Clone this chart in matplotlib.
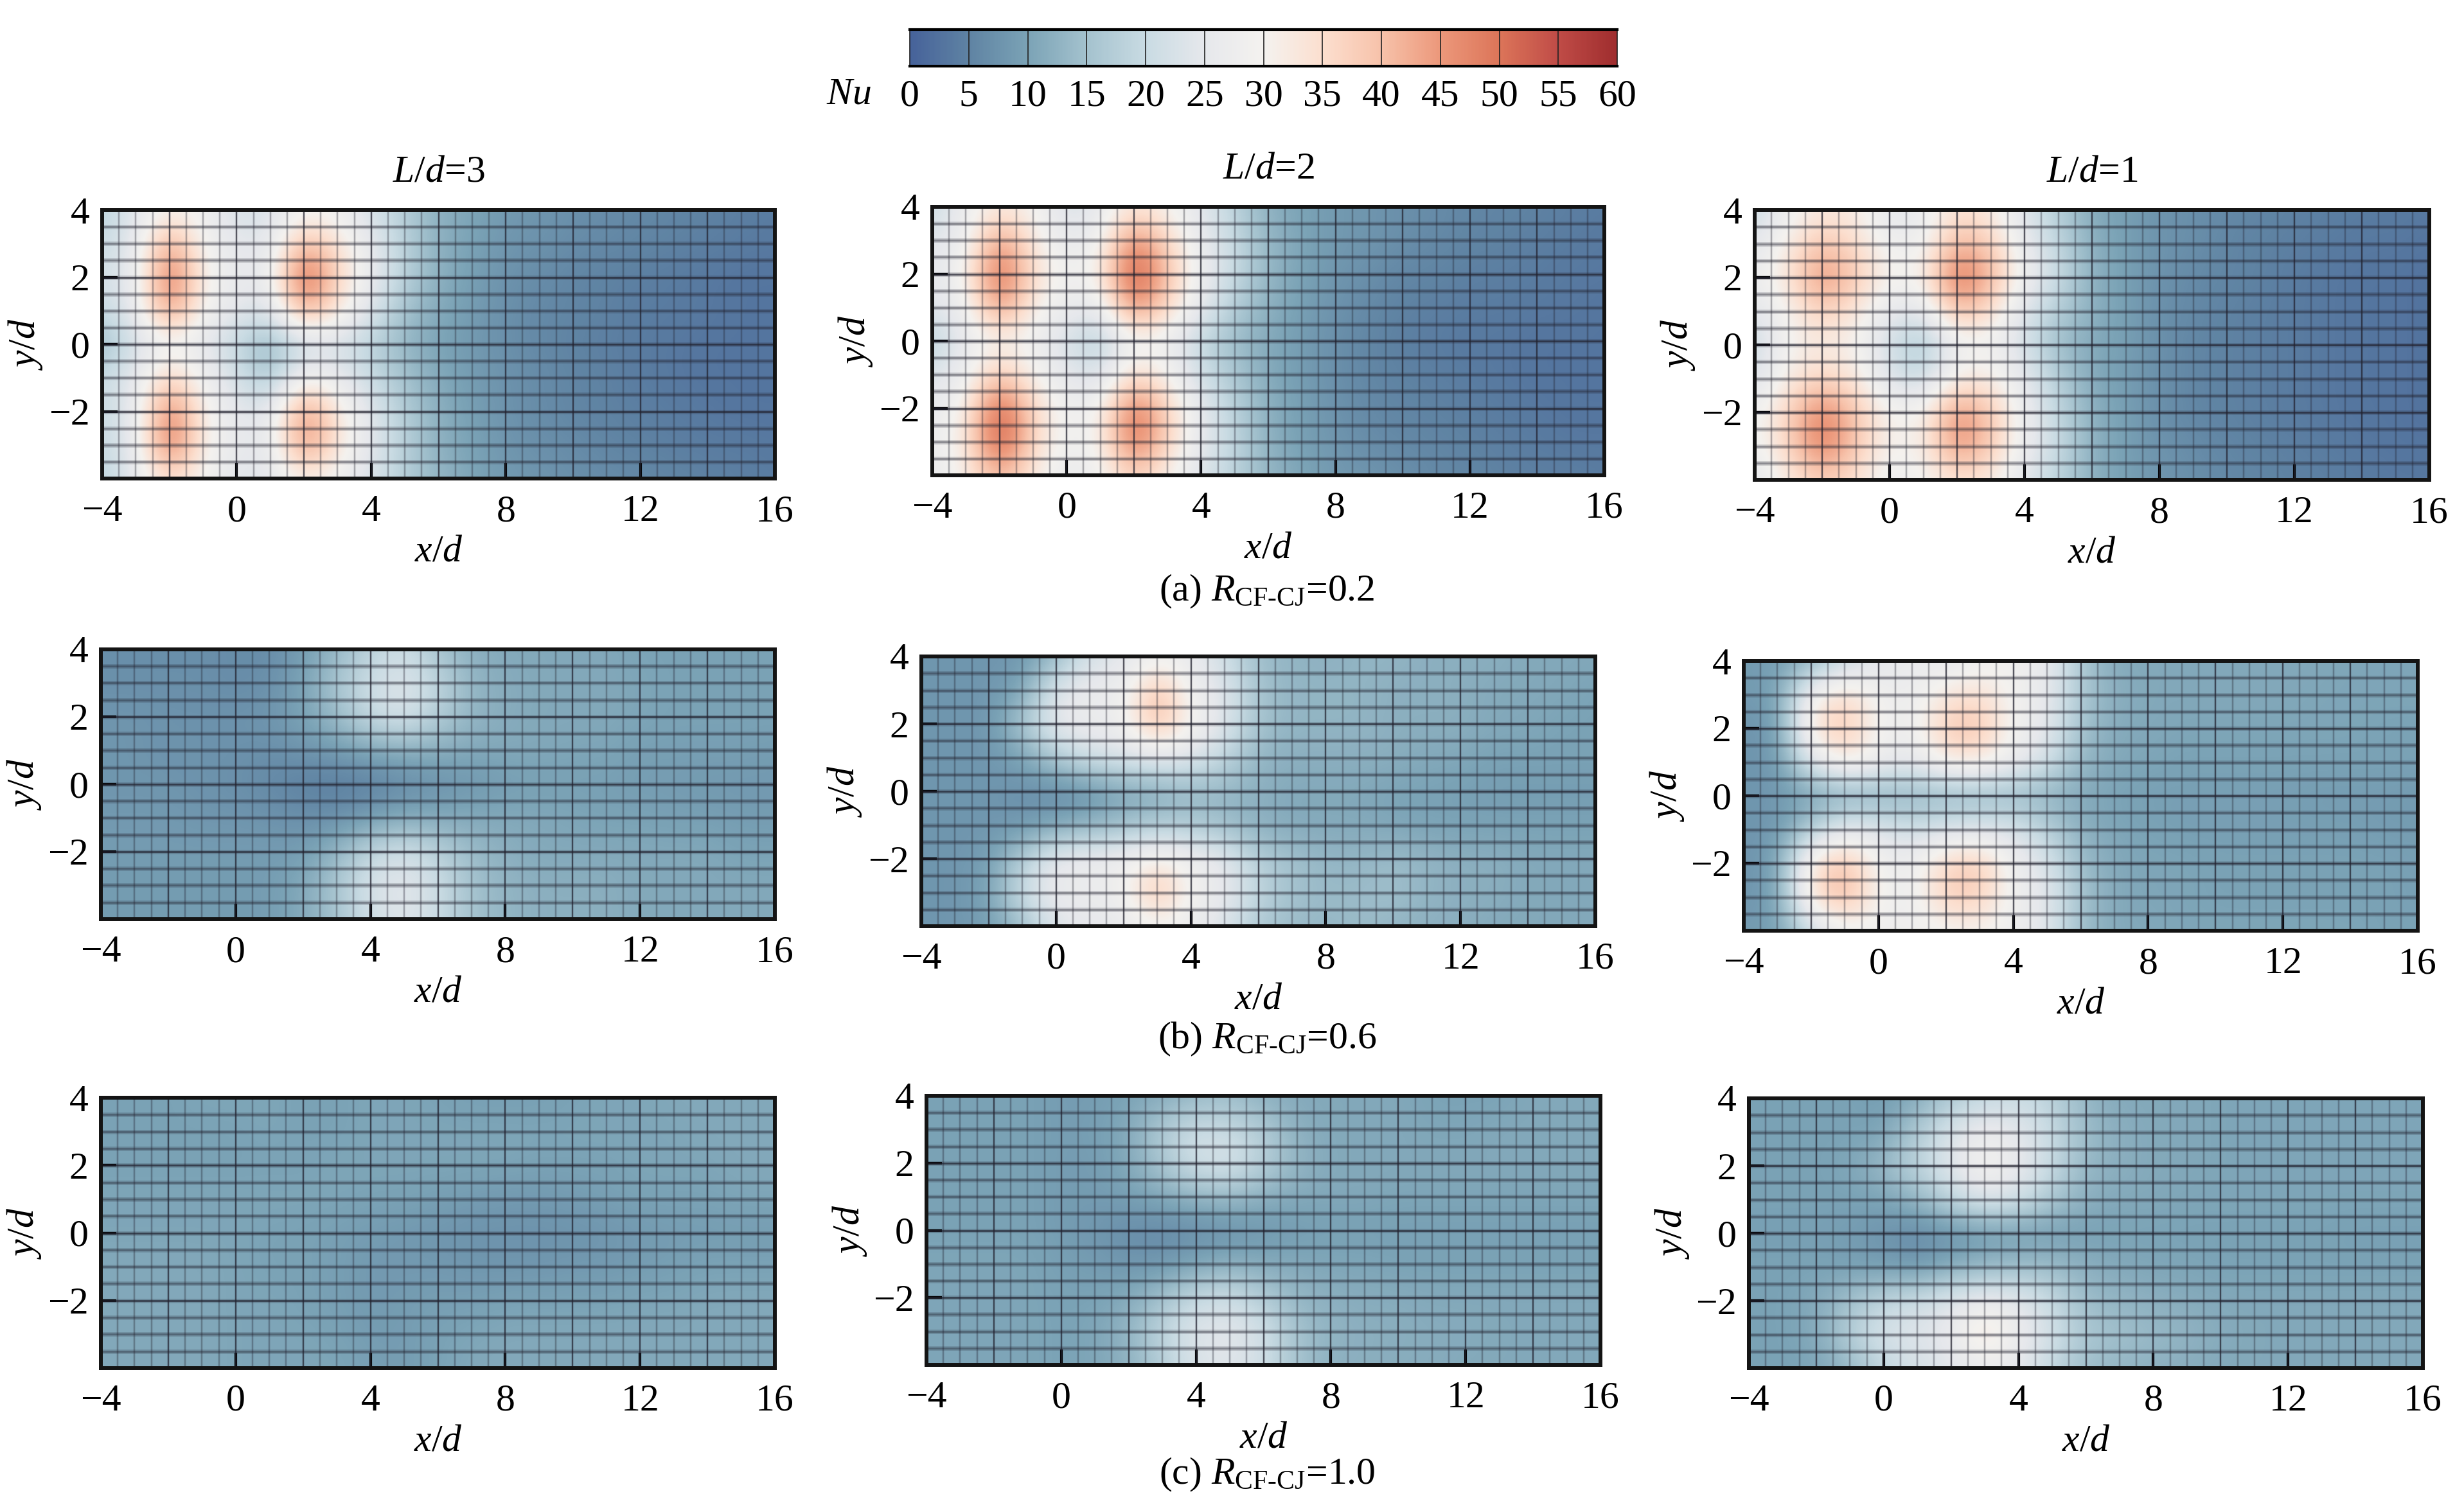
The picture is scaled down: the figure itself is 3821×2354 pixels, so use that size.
#!/usr/bin/env python3
"""Nusselt number maps for three spacings and three velocity ratios."""

import numpy as np
import matplotlib
matplotlib.use('Agg')
import matplotlib.pyplot as plt
from matplotlib.cm import ScalarMappable
from matplotlib.colors import LinearSegmentedColormap, Normalize

plt.rcParams['font.family'] = ['Liberation Serif', 'DejaVu Serif']
plt.rcParams['mathtext.fontset'] = 'custom'
plt.rcParams['mathtext.rm'] = 'Liberation Serif'
plt.rcParams['mathtext.it'] = 'Liberation Serif:italic'

W, H = 3821, 2354
FONT = 43

CBAR_COLORS = ['#46629a', '#5f83a3', '#7ba3b6', '#a4c2ce', '#c9dbe3', '#e6e8ec', '#f4f2ef',
               '#fcdfcf', '#f7c2aa', '#ec987b', '#dc7559', '#c04c47', '#9f2d2e']
CBAR_TICKS = list(range(0, 65, 5))
COL_TITLES = ['L/d=3', 'L/d=2', 'L/d=1']
CAPTIONS = [('(a) ', '0.2'), ('(b) ', '0.6'), ('(c) ', '1.0')]
X_TICKS = [-4, 0, 4, 8, 12, 16]
Y_TICKS = [-2, 0, 2, 4]

# Nu: rows y=4..-4, columns x=-4..16, both one d apart
NU_A1 = [
    [18, 24, 31, 28, 22, 23, 29, 28, 22, 17, 12, 10.5, 8.5, 8, 7, 6.5, 6, 5.5, 5, 4.5, 4],
    [20, 25, 45, 29, 25, 24, 42, 34, 25, 18, 12, 10, 8, 7.5, 6.5, 6, 5.5, 5, 4.5, 4, 3.5],
    [22, 25, 52, 31, 26, 26, 54, 37, 26, 18, 12, 9.5, 7.5, 6.5, 5.5, 5, 4.5, 4, 3.5, 3, 3],
    [20, 25, 47, 29, 25, 22, 44, 33, 23, 15, 11, 9, 7, 6, 5.5, 5, 4, 4, 3.5, 3, 3],
    [14, 22, 28, 25, 19, 13, 20, 22, 18, 13, 10, 8.5, 7, 6, 5, 4.5, 4, 3.5, 3, 3, 3],
    [20, 25, 38, 28, 22, 15, 30, 26, 20, 15, 11, 9, 7.5, 6.5, 5.5, 5, 4, 3.5, 3, 3, 3],
    [20, 25, 50, 31, 25, 24, 47, 33, 24, 17, 12, 9.5, 7.5, 6.5, 5.5, 5, 4.5, 4, 3.5, 3, 3],
    [20, 25, 52, 31, 26, 25, 47, 34, 24, 18, 12, 10, 8, 7, 6.5, 5.5, 5, 4.5, 4, 4, 3.5],
    [18, 25, 36, 29, 24, 24, 32, 28, 23, 17, 13, 10.5, 8.5, 8, 7, 6.5, 6, 5.5, 5, 4.5, 4],
]
NU_B1 = [
    [20, 27, 33, 30, 22, 25, 34, 30, 24, 18, 12, 10, 8.5, 8, 7, 6.5, 5.5, 5.5, 5, 4.5, 4],
    [24, 27, 46, 32, 26, 28, 48, 36, 26, 20, 13, 10.5, 8.5, 8, 7, 6, 5.5, 5, 4.5, 4, 3.5],
    [25, 30, 53, 35, 28, 31, 56, 40, 27, 20, 13, 10, 8, 7, 5.5, 5.5, 4.5, 4.5, 4, 3.5, 3.5],
    [24, 27, 47, 31, 27, 25, 48, 36, 25, 17, 12, 9.5, 7.5, 6, 5, 4.5, 4, 4, 3.5, 3.5, 3],
    [18, 26, 30, 28, 22, 17, 28, 27, 19, 14, 11, 9, 7, 5.5, 4.5, 4, 3.5, 3.5, 3, 3, 3],
    [23, 27, 40, 30, 25, 22, 36, 30, 21, 16, 11, 9, 7, 5.5, 5, 4.5, 4, 3.5, 3, 3, 3],
    [26, 31, 54, 36, 28, 29, 51, 37, 25, 18, 12, 9.5, 7.5, 6, 5.5, 5, 4.5, 4, 3.5, 3, 3],
    [27, 32, 56, 36, 28, 30, 52, 37, 25, 19, 12, 9.5, 8, 6.5, 6, 5.5, 5, 4.5, 4, 3.5, 3.5],
    [26, 31, 42, 32, 26, 28, 38, 31, 23, 18, 13, 10.5, 8.5, 8, 7, 6, 5.5, 5, 4.5, 4.5, 4],
]
NU_C1 = [
    [20, 28, 33, 32, 24, 26, 35, 32, 23, 17, 11, 9.5, 7.5, 7, 6, 5.5, 5, 4.5, 4, 4, 3.5],
    [24, 32, 40, 35, 28, 28, 42, 38, 26, 19, 12, 9.5, 7.5, 7, 5.5, 5, 4.5, 4, 3.5, 3.5, 3],
    [27, 34, 47, 39, 30, 31, 52, 42, 28, 20, 12, 9.5, 7.5, 6, 5.5, 5, 4, 3.5, 3, 3, 2.5],
    [24, 30, 38, 33, 25, 24, 41, 35, 23, 17, 12, 9.5, 7, 6, 5, 4.5, 4, 3.5, 3, 3, 2.5],
    [20, 30, 32, 30, 21, 15, 27, 28, 22, 14, 11, 9.5, 7, 5.5, 5, 4.5, 4, 3.5, 3, 3, 2.5],
    [23, 32, 37, 33, 23, 20, 32, 32, 25, 17, 11, 9, 7, 5.5, 5, 4.5, 4, 3.5, 3, 3, 2.5],
    [28, 37, 49, 39, 30, 30, 47, 39, 27, 19, 12, 9.5, 7, 5.5, 5, 4.5, 4, 3.5, 3, 3, 2.5],
    [28, 37, 50, 39, 30, 31, 47, 39, 27, 20, 12, 9.5, 7.5, 6.5, 5.5, 5, 4.5, 4, 3.5, 3, 3],
    [24, 32, 38, 34, 27, 29, 34, 32, 24, 18, 12, 9.5, 8, 7, 6, 5.5, 5, 4.5, 4, 3.5, 3.5],
]
NU_A2 = [
    [7, 7, 7, 7, 6.5, 6.5, 9, 13, 18, 21, 15, 12, 11, 11, 11, 11, 10, 10, 10, 10, 10],
    [7, 7, 7, 7, 6.5, 7, 10, 16, 21, 24, 19, 13, 11.5, 11, 11, 11, 10.5, 10, 10, 10, 10],
    [8, 8, 7.5, 7.5, 7.5, 8, 10, 14, 20, 23, 17, 13, 11.5, 11, 11, 11, 10.5, 10, 10, 10, 10],
    [8, 8, 7.5, 7.5, 7.5, 7, 8, 9, 11, 12, 12, 11, 11, 11, 10.5, 10.5, 9.5, 9.5, 9.5, 9.5, 9],
    [8, 8, 8, 7.5, 7, 6, 4.5, 4, 4.5, 6, 7, 8, 9, 9.5, 9.5, 9.5, 9, 9, 8.5, 8.5, 8.5],
    [8.5, 8.5, 8.5, 8, 8, 7.5, 7, 7, 9, 11, 11, 11, 11, 11, 10.5, 10, 10, 9.5, 9.5, 9, 9],
    [9, 9, 9, 9, 9, 9, 9, 13, 19, 22, 18, 14, 12, 11, 11, 11, 11, 11, 11, 10, 10],
    [9, 9, 9, 9, 9, 9, 11, 16, 23, 25, 21, 15, 13, 12, 12, 12, 11, 11, 11, 11, 11],
    [9, 9, 9, 9, 9, 9, 11, 15, 21, 24, 20, 15, 13, 12, 12, 12, 11, 11, 11, 11, 11],
]
NU_B2 = [
    [8, 8, 8, 8, 13, 22, 24, 28, 26, 21, 14, 13, 12, 13, 13, 12, 12, 12, 11, 11, 11],
    [8, 8, 8, 10, 24, 27, 27, 41, 28, 24, 15, 13, 13, 13, 12, 12, 12, 11, 11, 11, 10],
    [8, 8, 8, 16, 26, 27, 28, 42, 30, 24, 15, 13, 13, 13, 12, 12, 12, 11, 11, 10, 10],
    [8, 8, 8, 10, 17, 22, 23, 25, 24, 19, 13, 12, 12, 12, 12, 11, 11, 10, 10, 10, 10],
    [8, 8, 8, 7, 6, 7, 10, 11, 13, 13, 12, 11, 11, 11, 10, 10, 9.5, 9, 9, 9, 9],
    [8, 8, 8, 8, 10, 12, 14, 16, 16, 14, 12, 11, 11, 11, 10.5, 10, 10, 10, 10, 10, 10],
    [8, 8, 9, 17, 26, 27, 28, 32, 28, 25, 17, 15, 13, 13, 14, 13, 12, 12, 11, 11, 11],
    [8, 8, 10, 21, 27, 27, 28, 41, 29, 26, 19, 15, 14, 14, 15, 13, 12, 12, 11, 11, 11],
    [8, 8, 9, 14, 24, 25, 26, 29, 27, 23, 16, 14, 13, 14, 13, 12, 12, 11, 11, 11, 11],
]
NU_C2 = [
    [9, 9, 12, 20, 24, 27, 25, 28, 29, 26, 16, 11, 11, 11, 11, 11, 11, 11, 10.5, 10.5, 10.5],
    [9, 9, 30, 36, 29, 27, 33, 35, 29, 26, 16, 12, 11, 11, 11, 11, 11, 10.5, 10.5, 10.5, 10.5],
    [8, 8, 34, 40, 29, 27, 39, 40, 29, 25, 15, 11, 11, 10.5, 10.5, 10.5, 10.5, 10.5, 10.5, 10, 10],
    [8, 8, 24, 33, 28, 25, 32, 33, 27, 22, 13, 11, 10.5, 10, 10, 10, 10, 10, 10, 10, 10],
    [8, 8, 9, 10, 11, 12, 12, 12, 13, 12, 11, 10, 9.5, 9.5, 9.5, 9.5, 9.5, 9, 9, 9, 8.5],
    [8, 8, 17, 26, 24, 21, 23, 24, 23, 18, 12, 10.5, 10, 9.5, 9.5, 9.5, 9.5, 9.5, 9.5, 9, 9],
    [8, 9, 34, 41, 29, 27, 37, 39, 28, 23, 14, 11, 10.5, 10.5, 10, 10, 10, 10, 10, 10, 9.5],
    [8, 9, 35, 42, 30, 27, 38, 38, 28, 25, 15, 11, 10.5, 10.5, 10, 10, 10, 10, 10, 10, 9.5],
    [9, 9, 20, 28, 28, 28, 29, 30, 28, 24, 14, 11, 11, 10.5, 10.5, 10.5, 10.5, 10.5, 10.5, 10, 10],
]
NU_A3 = [
    [10, 10, 10, 10.5, 10.5, 10.5, 10, 10, 10.5, 10.5, 10, 9.5, 9.5, 9.5, 10, 10.5, 10.5, 11, 11, 11, 11],
    [10, 10, 10, 10, 10, 10.5, 10, 10, 10.5, 10.5, 10.5, 10.5, 10.5, 10.5, 10.5, 10.5, 10.5, 10.5, 11, 11, 11],
    [10, 10, 10, 10, 10, 10, 10, 10.5, 10.5, 10.5, 10.5, 10.5, 10.5, 10, 10, 10, 10.5, 10.5, 10.5, 11, 11],
    [10.5, 10.5, 10.5, 10.5, 10.5, 10.5, 10.5, 10.5, 10, 10, 9.5, 9, 8.5, 8.5, 9, 9.5, 10, 10, 10, 10.5, 10.5],
    [10.5, 10.5, 10.5, 10.5, 10.5, 10, 10, 9.5, 9, 8.5, 8, 7.5, 7.5, 7.5, 7.5, 8, 8.5, 9, 9, 9, 9],
    [11, 11, 11, 11, 10.5, 10, 10, 9.5, 8.5, 8.5, 8.5, 8, 8, 8, 8.5, 8.5, 9, 9.5, 10, 10, 10],
    [11, 11, 11, 11, 10.5, 10.5, 10, 9.5, 8.5, 9, 9.5, 9.5, 10, 10, 10, 10, 10.5, 10.5, 11, 11, 11],
    [11, 11, 11, 11, 10.5, 10.5, 10.5, 10, 9, 9, 10, 10.5, 11, 11, 11, 11, 11, 11, 11, 11, 11],
    [11, 11, 11, 11, 10.5, 10.5, 10.5, 10.5, 9.5, 9, 10, 11, 11, 11, 11, 11, 11, 11, 11, 11, 11],
]
NU_B3 = [
    [10, 10, 10, 10, 9, 9, 10, 11, 13, 14, 12, 11, 11, 11, 11, 10, 10, 10, 11, 11, 11],
    [10, 10, 10, 10, 9, 9.5, 11, 17, 21, 20, 17, 12, 11, 11, 11, 10.5, 10.5, 11, 11, 11, 11],
    [10, 10, 10, 10, 9, 9, 11, 16, 22, 23, 18, 13, 11, 11, 11, 11, 11, 11, 11, 11, 11],
    [10, 10, 10, 10, 9, 9, 9.5, 11, 13, 14, 12, 11, 11, 11, 10.5, 10.5, 10.5, 10.5, 10.5, 10.5, 10.5],
    [10, 10, 10, 10, 9, 8, 6.5, 6, 6.5, 7, 8, 9, 9.5, 9.5, 9.5, 9.5, 9.5, 9.5, 9.5, 9.5, 9.5],
    [10.5, 10.5, 10.5, 10.5, 9.5, 9, 8, 8, 10, 12, 11, 11, 10.5, 10.5, 10, 10, 10, 10, 10, 10, 10],
    [10.5, 10.5, 10.5, 10.5, 10, 10, 11, 15, 20, 21, 17, 13, 12, 11.5, 11.5, 11, 11, 11, 11, 11, 11],
    [10.5, 10.5, 10.5, 10.5, 10, 10.5, 13, 19, 24, 25, 22, 15, 13, 12, 12, 11.5, 11.5, 11, 11, 11, 11],
    [10.5, 10.5, 10.5, 10.5, 10, 10.5, 12, 17, 23, 24, 21, 15, 12, 12, 11.5, 11.5, 11, 11, 11, 11, 11],
]
NU_C3 = [
    [10, 10, 10, 10, 9, 11, 16, 19, 20, 18, 13, 11, 11, 11, 10.5, 10.5, 10.5, 10.5, 10.5, 10.5, 10.5],
    [10, 10, 10, 10, 10, 17, 23, 28, 25, 20, 14, 12, 11, 11, 10.5, 10.5, 10.5, 10.5, 10.5, 10.5, 10.5],
    [10, 10, 10, 10.5, 14, 19, 24, 31, 26, 20, 13, 12, 11, 11, 10.5, 10.5, 10.5, 10.5, 10.5, 10.5, 10.5],
    [10, 10, 10, 10, 10, 13, 19, 24, 22, 16, 12, 11, 11, 10.5, 10.5, 10.5, 10.5, 10.5, 10.5, 10.5, 10.5],
    [9.5, 9.5, 9.5, 9, 7.5, 6, 7, 8, 8.5, 9, 9.5, 10, 10, 10, 10, 10, 10, 10, 9.5, 9.5, 9.5],
    [10, 10, 10, 9.5, 9, 8, 11, 13, 14, 14, 12, 11, 10.5, 10.5, 10, 10, 10, 10, 10, 10, 10],
    [10, 10, 11, 15, 19, 21, 24, 27, 25, 20, 14, 13, 12, 11.5, 11, 11, 11, 11, 11, 11, 11],
    [10, 10, 11, 18, 23, 24, 26, 36, 27, 22, 16, 15, 14, 13, 11.5, 11, 11, 11, 11, 11, 11],
    [10, 10, 10, 13, 19, 22, 24, 26, 25, 19, 14, 13, 12, 11.5, 11, 11, 11, 11, 11, 11, 11],
]
FIELDS = [[NU_A1, NU_B1, NU_C1], [NU_A2, NU_B2, NU_C2], [NU_A3, NU_B3, NU_C3]]

# panel boxes in image pixels: left, right, top, bottom
BOXES = [
    [(159, 1206, 327, 745), (1451, 2497, 322, 740), (2731, 3781, 327, 747)],
    [(157, 1206, 1011, 1431), (1434, 2483, 1022, 1442), (2714, 3763, 1029, 1449)],
    [(157, 1206, 1709, 2130), (1442, 2491, 1706, 2125), (2722, 3771, 1710, 2130)],
]
CBAR_BOX = (1416, 2517, 46, 103)


def px_axes(fig, box):
    """Add axes from a (left, right, top, bottom) pixel box."""
    left, right, top, bottom = box
    return fig.add_axes([left / W, 1 - bottom / H, (right - left) / W, (bottom - top) / H])


def fig_text(fig, x, y, s, **kw):
    fig.text(x / W, 1 - y / H, s, fontsize=FONT, ha='center', va='center', **kw)


def draw_panel(ax, field, cmap, norm):
    # knots sit on whole x/d and y/d, so the image runs half a step past the axes
    ax.imshow(np.array(field), cmap=cmap, norm=norm, interpolation='bicubic',
              extent=(-4.5, 16.5, -4.5, 4.5), origin='upper', aspect='auto', zorder=1)
    ax.set_xlim(-4, 16)
    ax.set_ylim(-4, 4)

    # mesh drawn over the map, a wide faint line under a narrow one to soften it
    for x in np.arange(-3.5, 16, 0.5):
        heavy = x % 2 == 0
        ax.axvline(x, color='#22222f', lw=3.0, alpha=0.1, zorder=2)
        ax.axvline(x, color='#22222f', lw=1.6 if heavy else 1.1, alpha=0.7 if heavy else 0.35, zorder=2)
    for y in np.arange(-3.5, 4, 0.5):
        heavy = y % 2 == 0
        ax.axhline(y, color='#22222f', lw=4.8, alpha=0.22, zorder=2)
        ax.axhline(y, color='#22222f', lw=2.0, alpha=0.7 if heavy else 0.35, zorder=2)

    ax.set_xticks(X_TICKS)
    ax.set_yticks(Y_TICKS)
    ax.tick_params(direction='in', length=17, width=3, labelsize=FONT, colors='black')
    ax.tick_params(axis='x', pad=18)
    ax.tick_params(axis='y', pad=14)
    ax.set_xlabel(r'$\mathit{x/d}$', fontsize=FONT, labelpad=6)
    ax.set_ylabel(r'$\mathit{y/d}$', fontsize=FONT, labelpad=5)
    for spine in ax.spines.values():
        spine.set_linewidth(4.3)
        spine.set_color('#141414')
        spine.set_zorder(5)


def main():
    fig = plt.figure(figsize=(W / 100, H / 100), dpi=100, facecolor='white')
    cmap = LinearSegmentedColormap.from_list('nu', CBAR_COLORS, N=512)
    norm = Normalize(0, 60)

    for r, row in enumerate(FIELDS):
        for c, field in enumerate(row):
            ax = px_axes(fig, BOXES[r][c])
            draw_panel(ax, field, cmap, norm)
            if r == 0:
                name, value = COL_TITLES[c].split('=')
                ax.set_title(r'$\mathit{' + name + r'}$=' + value, fontsize=FONT, pad=32)

    # colour bar with a divider at every tick
    cax = px_axes(fig, CBAR_BOX)
    cb = fig.colorbar(ScalarMappable(norm=norm, cmap=cmap), cax=cax, orientation='horizontal')
    cb.set_ticks(CBAR_TICKS)
    cb.ax.tick_params(direction='in', length=41, width=1.2, labelsize=FONT, pad=15, color='#222222')
    cb.outline.set_visible(False)
    for side in ('top', 'bottom'):
        cb.ax.spines[side].set_visible(True)
        cb.ax.spines[side].set_linewidth(3)
    fig_text(fig, 1321, 147, r'$\mathit{Nu}$')

    for (prefix, value), y in zip(CAPTIONS, (921, 1618, 2296)):
        fig_text(fig, 1972, y, prefix + r'$\mathit{R}_{\mathrm{CF\text{-}CJ}}$=' + value)

    fig.savefig('out.png', dpi=100, facecolor='white')
    plt.close(fig)


if __name__ == '__main__':
    main()
